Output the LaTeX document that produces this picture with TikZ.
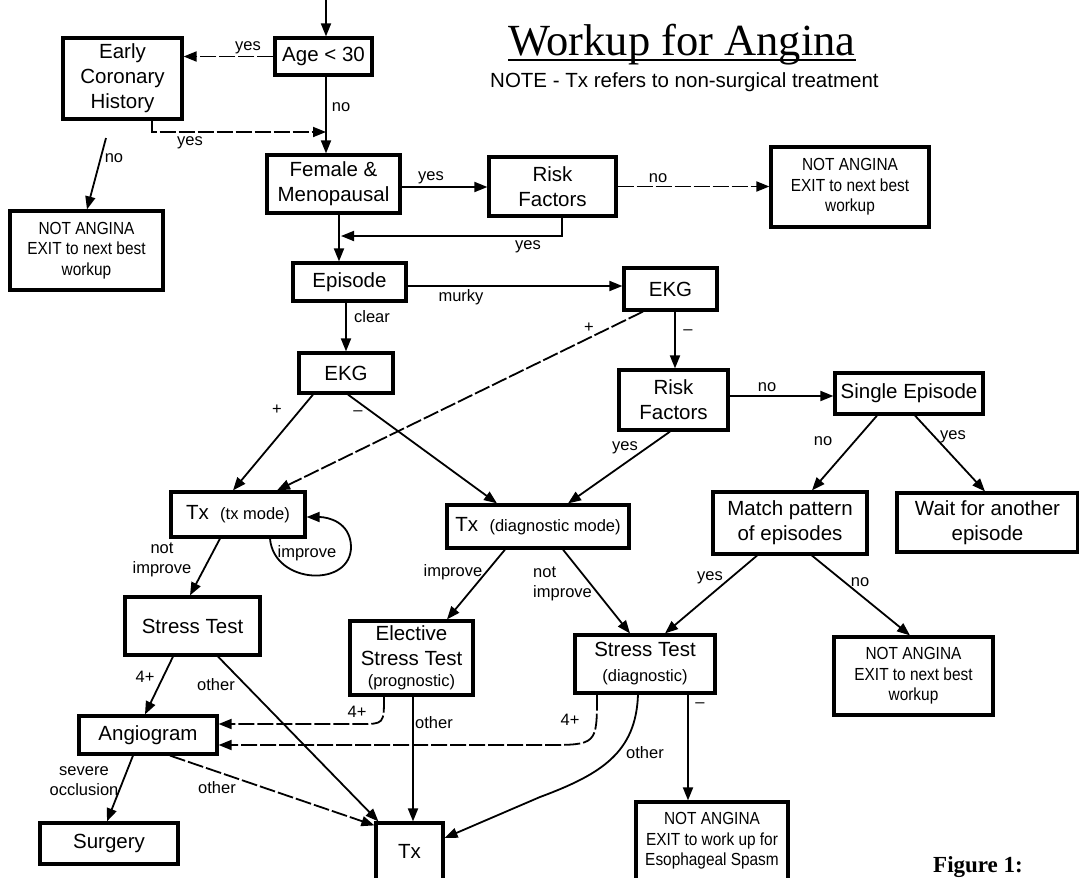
\documentclass[tikz,border=0pt]{standalone}
\usepackage{fontspec}
\setmainfont{Liberation Sans}
\newfontfamily\titlefont{Liberation Serif}
\newfontfamily\narrowfont{Liberation Sans}[FakeStretch=0.88]
\usetikzlibrary{arrows.meta}
\newcommand\paren{\fontsize{16.5}{20}\selectfont}
\tikzset{
  box/.style={draw, line width=3.2pt, inner sep=0pt, align=center,
    font=\fontsize{20.5}{25}\selectfont},
  sz/.style 2 args={minimum width=#1pt, minimum height=#2pt},
  exitbox/.style={box, font=\narrowfont\fontsize{17.5}{20.5}\selectfont},
  link/.style={line width=1.8pt, -{Triangle[length=13pt,width=10pt]}},
  gappy/.style={dash pattern=on 16pt off 3pt},
  lab/.style={inner sep=0pt, align=center, font=\fontsize{16.5}{20}\selectfont},
}
\begin{document}
\begin{tikzpicture}[x=1pt,y=-1pt]
\useasboundingbox (0,0) rectangle (1079,878);
\fill[white] (0,0) rectangle (1079,878);
\clip (0,0) rectangle (1079,878);

% heading
\node[inner sep=0pt, anchor=base west, font=\titlefont\fontsize{44.5}{50}\selectfont]
  (title) at (508,55) {Workup for Angina};
\draw[line width=2.2pt] ([yshift=-5pt]title.base west) -- ([yshift=-5pt]title.base east);
\node[inner sep=0pt, anchor=base west, font=\fontsize{20.5}{24}\selectfont]
  (note) at (490,87) {NOTE - Tx refers to non-surgical treatment};
\node[inner sep=0pt, anchor=base west, font=\titlefont\bfseries\fontsize{23}{26}\selectfont]
  (fig) at (933,872) {Figure 1:};

% boxes
\node[box, sz={97}{37}] (age) at (323.5,56.5) {Age < 30};
\node[box, sz={119}{81}] (early) at (122.5,78.5) {Early\\Coronary\\History};
\node[exitbox, sz={153}{79}] (na1) at (86.5,250.5) {NOT ANGINA\\EXIT to next best\\workup};
\node[box, sz={133}{58}] (female) at (333.5,184) {Female \&\\Menopausal};
\node[box, sz={127}{59}] (risk1) at (552.5,186.5) {Risk\\Factors};
\node[exitbox, sz={158}{80}] (na2) at (850,187) {NOT ANGINA\\EXIT to next best\\workup};
\node[box, sz={113}{38}] (episode) at (349.5,282) {Episode};
\node[box, sz={93}{42}] (ekgm) at (670.5,289) {EKG};
\node[box, sz={94}{40}] (ekgc) at (346,373) {EKG};
\node[box, sz={109}{60}] (risk2) at (673.5,400) {Risk\\Factors};
\node[box, sz={148}{41}] (single) at (909,393.5) {Single Episode};
\node[box, sz={134}{45}] (txfx) at (238,514.5) {Tx\ \ {\paren(tx mode)}};
\node[box, sz={182}{43}] (txdiag) at (538,526.5) {Tx\ \ {\paren(diagnostic mode)}};
\node[box, sz={154}{62}] (match) at (790,523) {Match pattern\\of episodes};
\node[box, sz={181}{59}] (wait) at (987.5,522.5) {Wait for another\\episode};
\node[box, sz={135}{58}] (stress1) at (192.5,626) {Stress Test};
\node[box, sz={123}{74}] (elective) at (411.5,658) {Elective\\Stress Test\\[-4pt]{\paren(prognostic)}};
\node[box, sz={140}{58}] (stressd) at (645,664) {Stress Test\\{\paren(diagnostic)}};
\node[exitbox, sz={159}{78}] (na3) at (913.5,676) {NOT ANGINA\\EXIT to next best\\workup};
\node[box, sz={138}{38}] (angio) at (148,735) {Angiogram};
\node[box, sz={138}{41}] (surgery) at (109,843.5) {Surgery};
\node[box, sz={67}{57}] (tx) at (409.5,851.5) {Tx};
\node[exitbox, sz={152}{78}] (na4) at (712,841) {NOT ANGINA\\EXIT to work up for\\Esophageal Spasm};

% top of the tree
\coordinate (in) at (326,0);
\draw[link] (in) -- (in |- age.north);
\draw[link, gappy] (age.west) -- (age.west -| early.east);
\node[lab] (l1) at (248,48) {yes};
\draw[link] (in |- age.south) -- (in |- female.north);
\node[lab] (l2) at (341,107) {no};
\coordinate (j1) at (326,132);
\draw[link, gappy] ([xshift=29.5pt]early.south) |- (j1);
\node[lab] (l3) at (190,143) {yes};
\coordinate (n1) at (106,138);
\draw[link] (n1) -- ([xshift=0.5pt]na1.north);
\node[lab] (l4) at (114,158) {no};

\coordinate (yf) at (0,187);
\draw[link] (female.east |- yf) -- (risk1.west |- yf);
\node[lab] (l5) at (431,178) {yes};
\coordinate (j2) at (341,236);
\draw[link] ([xshift=9.5pt]risk1.south) |- (j2);
\node[lab] (l6) at (528,247) {yes};
\draw[link] ([xshift=5.5pt]female.south) -- ([xshift=5.5pt]female.south |- episode.north);
\draw[link, gappy] (risk1.east) -- (risk1.east -| na2.west);
\node[lab] (l7) at (658,178) {no};

% episode and EKG
\coordinate (ym) at (0,286);
\draw[link] (episode.east |- ym) -- (ekgm.west |- ym);
\node[lab] (l8) at (461,297) {murky};
\draw[link] (ekgc.north |- episode.south) -- (ekgc.north);
\node[lab] (l9) at (372,317) {clear};
\draw[link, gappy] ([xshift=-27.5pt]ekgm.south) -- ([xshift=39pt]txfx.north);
\node[lab] (l10) at (589,328) {+};
\draw[link] ([xshift=-33pt]ekgc.south) -- ([xshift=-5pt]txfx.north);
\node[lab] (l11) at (277,410) {+};
\draw[link] ([xshift=2pt]ekgc.south) -- ([xshift=-41pt]txdiag.north);
\node[lab] (l12) at (358,413) {--};
\draw[link] ([xshift=4.5pt]ekgm.south) -- ([xshift=4.5pt]ekgm.south |- risk2.north);
\node[lab] (l13) at (688,332) {--};
\coordinate (yr) at (0,396);
\draw[link] (risk2.east |- yr) -- (single.west |- yr);
\node[lab] (l14) at (767,387) {no};
\draw[link] ([xshift=-3.5pt]risk2.south) -- ([xshift=30pt]txdiag.north);
\node[lab] (l15) at (625,448) {yes};
\draw[link] ([xshift=-32pt]single.south) -- ([xshift=22pt]match.north);
\node[lab] (l16) at (823,441) {no};
\draw[link] ([xshift=6pt]single.south) -- ([xshift=-2.5pt]wait.north);
\node[lab] (l17) at (953,437) {yes};

% treatment
\draw[link] ([xshift=32pt]txfx.south) .. controls (274,585) and (352,588) .. (351,546)
  .. controls (350,522) and (328,517) .. ([yshift=-2.5pt]txfx.east);
\node[lab] (l18) at (307,553) {improve};
\draw[link] ([xshift=-18pt]txfx.south) -- ([xshift=-2.5pt]stress1.north);
\node[lab] (l19) at (162,560) {not\\improve};
\draw[link] ([xshift=-33pt]txdiag.south) -- ([xshift=35.5pt]elective.north);
\node[lab] (l20) at (453,572) {improve};
\draw[link] ([xshift=25pt]txdiag.south) -- ([xshift=-15pt]stressd.north);
\node[lab, align=left, anchor=west] (l21) at (533,584) {not\\improve};
\draw[link] ([xshift=-33pt]match.south) -- ([xshift=20pt]stressd.north);
\node[lab] (l22) at (710,578) {yes};
\draw[link] ([xshift=22pt]match.south) -- ([xshift=-3.5pt]na3.north);
\node[lab] (l23) at (860,582) {no};

% stress tests
\draw[link] ([xshift=-19.5pt]stress1.south) -- ([xshift=-3pt]angio.north);
\node[lab] (l24) at (145,677) {4+};
\draw[link] ([xshift=25.5pt]stress1.south) -- ([xshift=4pt]tx.north west);
\node[lab] (l25) at (216,685) {other};
\coordinate (ya) at (0,724);
\draw[link, gappy] ([xshift=-27.5pt]elective.south) .. controls (384,724) .. (360,724) -- (angio.east |- ya);
\node[lab] (l26) at (357,712) {4+};
\coordinate (yb) at (0,745);
\draw[link, gappy] ([xshift=-48pt]stressd.south) .. controls (597,745) .. (545,745) -- (angio.east |- yb);
\node[lab] (l27) at (570,720) {4+};
\draw[link] ([xshift=-7pt]stressd.south) .. controls (636,752) and (602,774) .. (540,797)
  -- ([yshift=13.5pt]tx.east);
\node[lab] (l28) at (645,753) {other};
\draw[link] ([xshift=43pt]stressd.south) -- ([xshift=43pt]stressd.south |- na4.north);
\node[lab] (l29) at (700,705) {--};
\draw[link] ([xshift=1.5pt]elective.south) -- ([xshift=1.5pt]elective.south |- tx.north);
\node[lab] (l30) at (434,723) {other};
\draw[link] ([xshift=-15pt]angio.south) -- ([xshift=-2pt]surgery.north);
\node[lab] (l31) at (84,781) {severe\\occlusion};
\draw[link, gappy] ([xshift=22pt]angio.south) -- ([yshift=-4pt]tx.north west);
\node[lab] (l32) at (217,788) {other};
\end{tikzpicture}
\end{document}
